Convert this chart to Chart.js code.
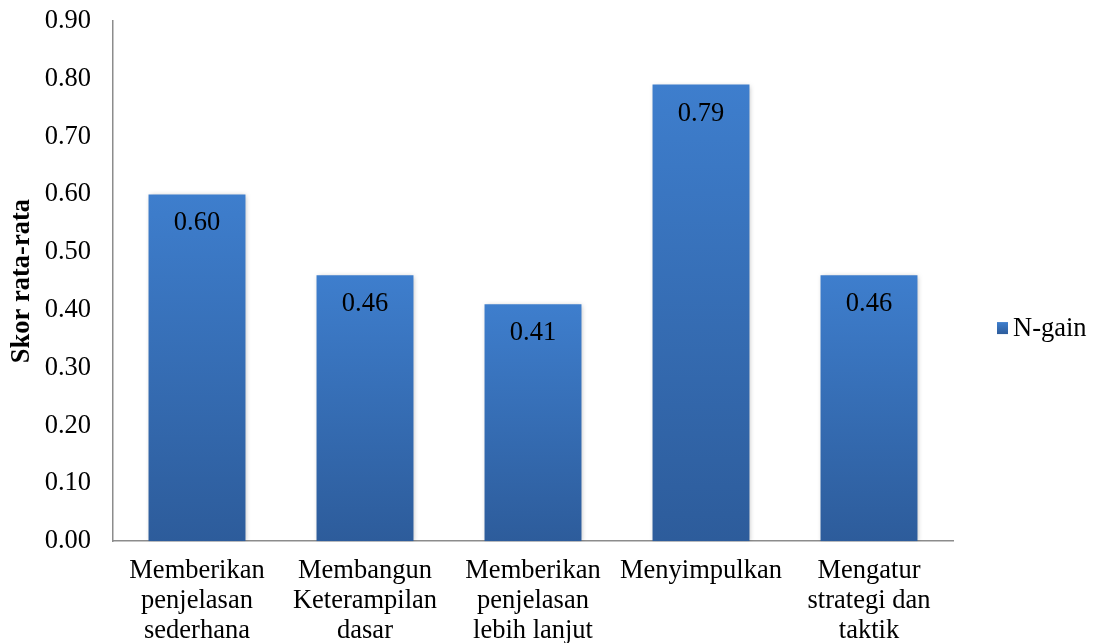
<!DOCTYPE html>
<html>
<head>
<meta charset="utf-8">
<script src="https://cdn.jsdelivr.net/npm/chart.js@4/dist/chart.umd.min.js"></script>
<style>
  html, body { margin: 0; padding: 0; background: #ffffff; }
  #wrap { width: 1101px; height: 643px; }
</style>
</head>
<body>
<div id="wrap"><canvas id="c" width="1101" height="643"></canvas></div>
<script>
const categories = [
  ["Memberikan", "penjelasan", "sederhana"],
  ["Membangun", "Keterampilan", "dasar"],
  ["Memberikan", "penjelasan", "lebih lanjut"],
  ["Menyimpulkan"],
  ["Mengatur", "strategi dan", "taktik"]
];
const seriesName = "N-gain";
const nGain = [0.60, 0.46, 0.41, 0.79, 0.46];
const yAxisTitle = "Skor rata-rata";

const FONT = "'Liberation Serif', 'Times New Roman', serif";
const FSIZE = 26.5;
const TOP_COLOR = "#3e7ecd";
const BOTTOM_COLOR = "#2d5c9b";

function barGradient(ctx) {
  const chart = ctx.chart;
  const area = chart.chartArea;
  if (!area) return TOP_COLOR;
  const yScale = chart.scales.y;
  const v = ctx.raw;
  const top = yScale.getPixelForValue(v);
  const bottom = yScale.getPixelForValue(0);
  if (!isFinite(top) || !isFinite(bottom) || top === bottom) return TOP_COLOR;
  const g = chart.ctx.createLinearGradient(0, top, 0, bottom);
  g.addColorStop(0, TOP_COLOR);
  g.addColorStop(1, BOTTOM_COLOR);
  return g;
}

const shadowPlugin = {
  id: 'barShadow',
  beforeDatasetsDraw(chart) {
    const c = chart.ctx;
    c.save();
    c.shadowColor = 'rgba(0,0,0,0.28)';
    c.shadowBlur = 5;
    c.shadowOffsetX = 1;
    c.shadowOffsetY = 1;
  },
  afterDatasetsDraw(chart) {
    chart.ctx.restore();
  }
};

const valueLabels = {
  id: 'valueLabels',
  afterDatasetsDraw(chart) {
    const c = chart.ctx;
    c.save();
    c.font = FSIZE + "px " + FONT;
    c.fillStyle = "#000000";
    c.textAlign = "center";
    c.textBaseline = "middle";
    const meta = chart.getDatasetMeta(0);
    meta.data.forEach((bar, i) => {
      const v = chart.data.datasets[0].data[i];
      c.fillText(v.toFixed(2), bar.x, bar.y + 29);
    });
    c.restore();
  }
};

const customLegend = {
  id: 'customLegend',
  afterDraw(chart) {
    const c = chart.ctx;
    const area = chart.chartArea;
    const ds = chart.data.datasets[0];
    const cy = (area.top + area.bottom) / 2 + 47;
    const bx = area.right + 44;
    c.save();
    const g = c.createLinearGradient(0, cy - 6, 0, cy + 6);
    g.addColorStop(0, TOP_COLOR);
    g.addColorStop(1, BOTTOM_COLOR);
    c.fillStyle = g;
    c.fillRect(bx, cy - 6, 11, 12);
    c.font = FSIZE + "px " + FONT;
    c.fillStyle = "#000000";
    c.textAlign = "left";
    c.textBaseline = "middle";
    c.fillText(ds.label, bx + 16, cy + 1);
    c.restore();
  }
};

new Chart(document.getElementById('c'), {
  type: 'bar',
  data: {
    labels: categories,
    datasets: [{
      label: seriesName,
      data: nGain,
      backgroundColor: barGradient,
      borderWidth: 0,
      categoryPercentage: 1.0,
      barPercentage: 0.577
    }]
  },
  options: {
    responsive: false,
    animation: false,
    devicePixelRatio: 1,
    layout: { padding: { left: 0, right: 148, top: 21, bottom: -18 } },
    plugins: {
      legend: { display: false },
      tooltip: { enabled: false }
    },
    scales: {
      x: {
        grid: { display: false, drawTicks: false },
        border: { display: true, color: '#8c8c8c', width: 1.5 },
        ticks: {
          color: '#000000',
          font: { family: FONT, size: FSIZE, lineHeight: 1.13 },
          padding: 15,
          maxRotation: 0,
          autoSkip: false
        }
      },
      y: {
        min: 0,
        max: 0.9,
        afterFit: (scale) => {
          scale.width = 113;
          scale.paddingTop = 16;
          scale.paddingBottom = 16;
        },
        grid: { display: false, drawTicks: false },
        border: { display: true, color: '#8c8c8c', width: 1.5 },
        ticks: {
          stepSize: 0.1,
          color: '#000000',
          font: { family: FONT, size: FSIZE },
          padding: 22,
          callback: (v) => Number(v).toFixed(2)
        },
        title: {
          display: true,
          text: yAxisTitle,
          color: '#000000',
          font: { family: FONT, size: FSIZE, weight: 'bold' },
          padding: { top: 6, bottom: 4 }
        }
      }
    }
  },
  plugins: [shadowPlugin, valueLabels, customLegend]
});
</script>
</body>
</html>
